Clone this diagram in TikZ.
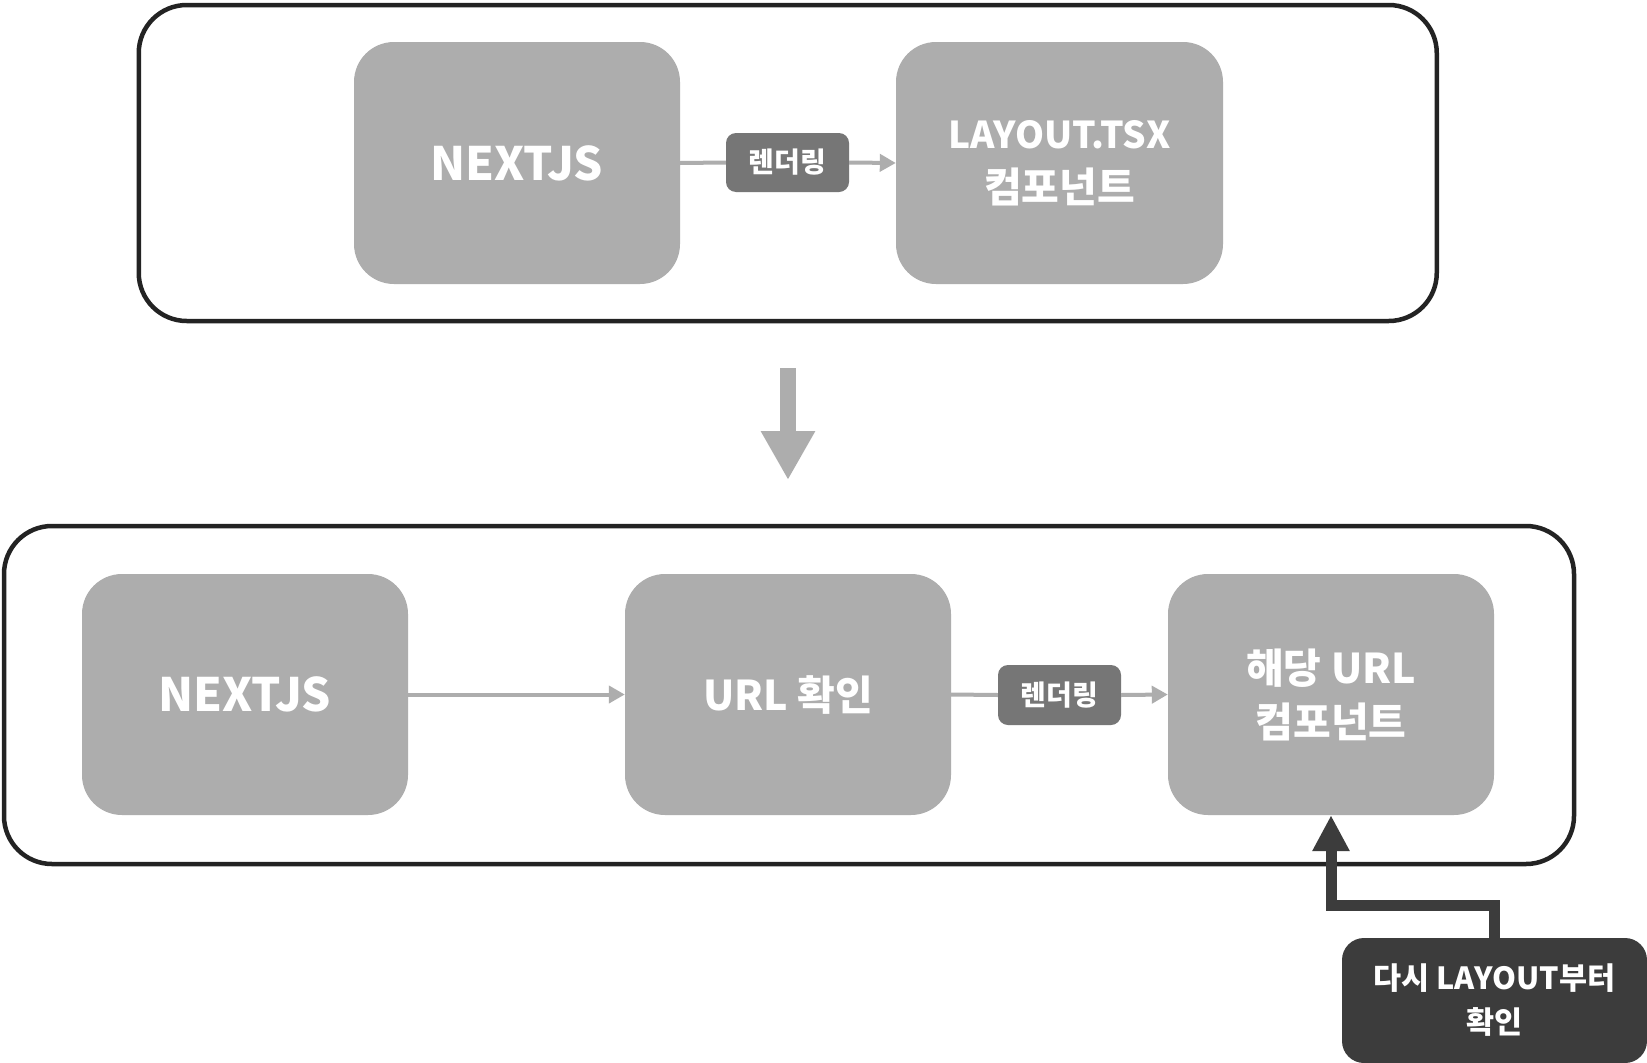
\documentclass[tikz,border=0pt]{standalone}
\usepackage{fontspec}
\setmainfont{Noto Sans CJK KR}
\usetikzlibrary{arrows.meta}
\definecolor{boxgray}{HTML}{ADADAD}
\definecolor{labgray}{HTML}{767676}
\definecolor{darkfill}{HTML}{3C3C3C}
\definecolor{outline}{HTML}{232323}
\tikzset{
  outerbox/.style={draw=outline, line width=4.5pt, rounded corners=48pt, fill=white, inner sep=0pt},
  gbox/.style={fill=boxgray, rounded corners=40pt, minimum width=326pt, minimum height=242pt, inner sep=0pt, text=white, font=\bfseries\fontsize{41}{54}\selectfont, align=center},
  labbox/.style={fill=labgray, rounded corners=10pt, minimum width=123pt, minimum height=59pt, inner sep=0pt, text=white, font=\bfseries\fontsize{28}{30}\selectfont},
  darkbox/.style={fill=darkfill, rounded corners=22pt, minimum width=305pt, minimum height=125pt, inner sep=0pt, text=white, font=\bfseries\fontsize{30.5}{44}\selectfont, align=center},
  conn/.style={draw=boxgray, line width=4pt},
  connarrow/.style={conn, -{Triangle[length=16pt, width=17pt]}},
  bigarrow/.style={draw=boxgray, line width=16pt, -{Triangle[length=49pt, width=51pt]}},
  darkarrow/.style={draw=darkfill, line width=11pt, line join=miter, -{Triangle[length=36pt, width=35pt]}},
  bigtext/.style={font=\bfseries\fontsize{46}{52}\selectfont}
}
\begin{document}
\begin{tikzpicture}[x=1pt, y=-1pt]
\useasboundingbox (0,0) rectangle (1647,1063);
% outer frames
\node[outerbox, minimum width=1298pt, minimum height=316pt] (top) at (787.75,163) {};
\node[outerbox, minimum width=1570pt, minimum height=338pt] (bot) at (789,695) {};
% top row
\node[gbox, bigtext] (n1) at (517,163) {NEXTJS};
\node[gbox, minimum width=327pt] (lay) at (1059.5,163) {{\fontsize{37}{54}\selectfont LAYOUT.TSX}\\컴포넌트};
\node[labbox] (l1) at (787.5,162.5) {렌더링};
\draw[conn] (n1.east) -- (l1.west);
\draw[connarrow] (l1.east) -- (lay.west);
% big arrow between frames
\coordinate (ba1) at (788,368);
\coordinate (ba2) at (788,480);
\draw[bigarrow] (ba1) -- (ba2);
% bottom row
\node[gbox, bigtext, minimum height=241pt] (n2) at (245,694.5) {NEXTJS};
\node[gbox, minimum height=241pt] (url) at (788,694.5) {URL 확인};
\node[gbox, minimum height=241pt] (comp) at (1331,694.5) {해당 URL\\컴포넌트};
\node[labbox, minimum height=60pt] (l2) at (1059.5,695) {렌더링};
\draw[connarrow] (n2.east) -- (url.west);
\draw[conn] (url.east) -- (l2.west);
\draw[connarrow] (l2.east) -- (comp.west);
% dark note box and arrow
\node[darkbox] (note) at (1494.5,1000.5) {다시 LAYOUT부터\\확인};
\coordinate (bend) at (1331,905);
\draw[darkarrow] (note.north) |- (bend) -- (comp.south);
\end{tikzpicture}
\end{document}
